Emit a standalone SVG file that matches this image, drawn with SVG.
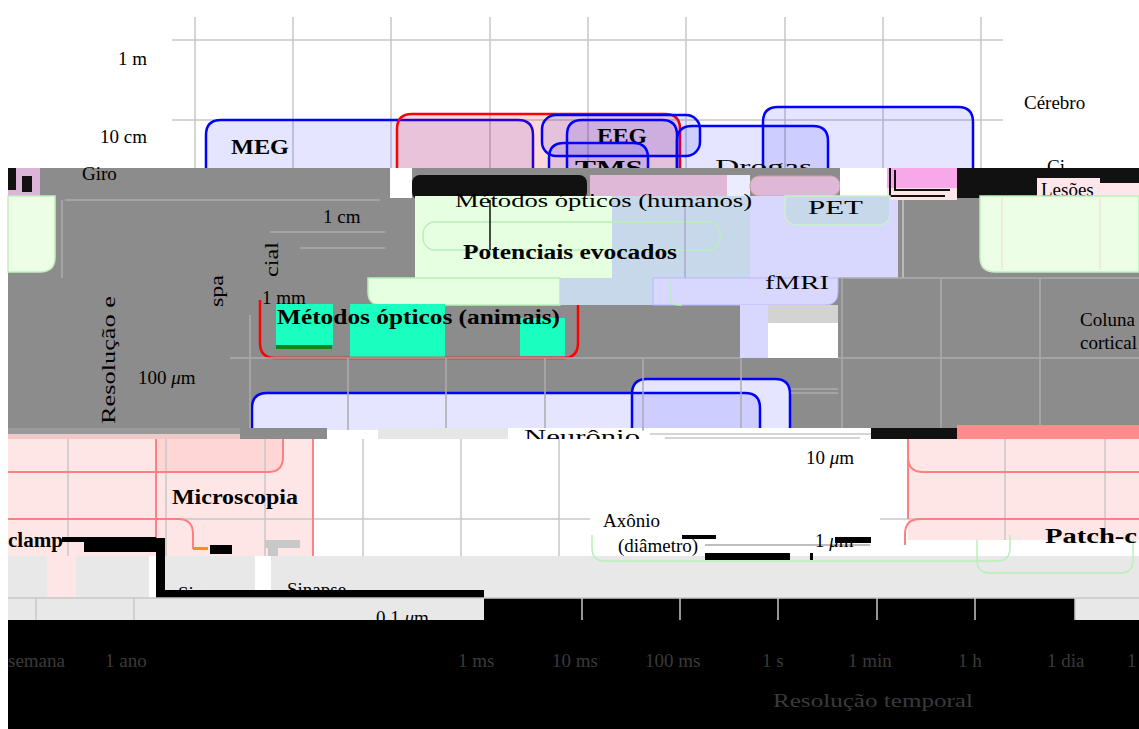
<svg xmlns="http://www.w3.org/2000/svg" width="1139" height="729" viewBox="0 0 1139 729">
<style>
.t{font-family:"Liberation Serif","Times New Roman",serif;font-size:19px;fill:#000}
.b{font-weight:bold;font-size:20px}
.ax{font-family:"Liberation Serif","Times New Roman",serif;font-size:19px;fill:#3a3a3a}
.g{stroke:#c8c8c8;stroke-width:1.5;fill:none}
.gd{stroke:#acacac;stroke-width:1.5;fill:none}
.bl{fill:#0000ff;fill-opacity:0.1;stroke:#0000ff;stroke-width:2.5}
.wh{fill:#fff;stroke:none}
.rd{fill:#ff0000;fill-opacity:0.15;stroke:#ff0000;stroke-width:2.5}
.sa{stroke:#ff8080;stroke-width:2;fill:none}
.gr{fill:#8c8c8c}
.lg{fill:#ecffe6;stroke:#bff0bf;stroke-width:1.5}
.lgo{fill:none;stroke:#b8f0b8;stroke-width:1.5}
</style>
<rect width="1139" height="729" fill="#fff"/>

<!-- top band -->
<g id="grid-top">
<path class="g" d="M172,40 H1003 M172,120 H1003 M195,17 V170 M293,17 V170 M391,17 V170 M490,17 V170 M588,17 V170 M686,17 V170 M785,17 V170 M883,17 V170 M981,17 V170"/>
<text class="t" x="147" y="65" text-anchor="end">1 m</text>
<text class="t" x="147" y="143" text-anchor="end">10 cm</text>
<text class="t" x="1024" y="109">Cérebro</text>
</g>
<g id="meg"><path class="bl" d="M206,172 V135 Q206,120 221,120 H518 Q533,120 533,135 V172"/>
<text class="t b" x="231" y="154" textLength="58" lengthAdjust="spacingAndGlyphs">MEG</text></g>
<g id="big-right"><path class="bl" d="M763,172 V122 Q763,107 778,107 H958 Q973,107 973,122 V172"/></g>
<g id="red-top"><path class="rd" d="M397,172 V129 Q397,114 412,114 H665 Q680,114 680,129 V172"/></g>
<g id="eeg">
<rect class="bl" x="542" y="115" width="158" height="41" rx="14"/>
<path class="bl" d="M567,172 V135 Q567,120 582,120 H662 Q677,120 677,135 V172"/>
<text class="t b" x="597" y="143" textLength="50" lengthAdjust="spacingAndGlyphs">EEG</text></g>
<g id="drogas"><path class="bl" d="M677,172 V141 Q677,126 692,126 H813 Q828,126 828,141 V172"/>
<text class="t" x="715" y="173" font-size="21" textLength="97" lengthAdjust="spacingAndGlyphs">Drogas</text></g>
<g id="tms"><path class="bl" d="M549,172 V158 Q549,143 564,143 H633 Q648,143 648,158 V172"/>
<text class="t b" x="575" y="175" font-size="21" textLength="68" lengthAdjust="spacingAndGlyphs">TMS</text></g>
<text class="t" x="1047" y="173">Ci</text>

<!-- glitched middle band -->
<g id="band-mid">
<rect class="gr" x="8" y="168" width="1131" height="262"/>
<rect x="0" y="168" width="8" height="561" fill="#fff"/>
<!-- row 1 -->
<rect x="8" y="168" width="32" height="28" fill="#dcb4d8"/>
<rect x="8" y="168" width="8" height="22" fill="#111"/>
<rect x="22" y="176" width="10" height="16" fill="#111"/>
<text class="t" x="82" y="180" fill="#5e5e5e">Giro</text>
<rect x="390" y="168" width="22" height="30" fill="#fff"/>
<rect x="412" y="175" width="175" height="25" rx="8" fill="#111"/>
<rect x="590" y="175" width="137" height="22" fill="#dfb8d8"/>
<rect x="727" y="175" width="23" height="22" fill="#ececff"/>
<rect x="750" y="176" width="90" height="20" rx="9" fill="#dfb8d8" stroke="#c8a0a0"/>
<rect x="840" y="168" width="47" height="30" fill="#fff"/>
<rect x="887" y="168" width="70" height="20" fill="#f8a8e8"/>
<rect x="887" y="188" width="70" height="12" fill="#ffe6e6"/>
<path d="M890,168 V196 H945 M895,170 V190 H950" stroke="#111" stroke-width="2" fill="none"/>
<rect x="957" y="168" width="182" height="10" fill="#111"/>
<rect x="957" y="178" width="80" height="20" fill="#111"/>
<rect x="1037" y="178" width="102" height="20" fill="#ffe6ea"/>
<rect x="1100" y="178" width="39" height="5" fill="#111"/>
<text class="t" x="1041" y="196">Lesões</text>
<!-- row 2 -->
<path class="lg" d="M8,196 H55 V257 Q55,272 40,272 H8 Z"/>
<path class="gd" d="M65,200 H380 M270,232 H385 M300,248 H385 M62,200 V278"/>
<text class="t" x="323" y="223">1 cm</text>
<rect x="415" y="196" width="197" height="82" fill="#e6ffe0"/>
<rect x="612" y="196" width="138" height="84" fill="#c6d8ea"/>
<rect x="750" y="196" width="140" height="82" fill="#d8d8ff"/>
<rect class="lgo" x="423" y="222" width="297" height="28" rx="12"/>
<path d="M490,200 V250" stroke="#111" stroke-width="1.5"/>
<path d="M685,198 V280" stroke="#aac" stroke-width="1.5"/>
<text class="t" x="455" y="207" font-size="21" textLength="297" lengthAdjust="spacingAndGlyphs">Métodos ópticos (humanos)</text>
<text class="t b" x="463" y="259" textLength="214" lengthAdjust="spacingAndGlyphs">Potenciais evocados</text>
<path d="M785,196 V212 Q785,225 798,225 H877 Q890,225 890,212 V196 Z" fill="#c6d8ea" stroke="#ccefcc" stroke-width="1.5"/>
<text class="t" x="808" y="214" font-size="21" textLength="55" lengthAdjust="spacingAndGlyphs">PET</text>
<rect x="890" y="200" width="8" height="78" fill="#d8d8ff"/>
<path class="g" d="M903,200 V278"/>
<path class="lg" d="M1139,196 H980 V257 Q980,272 995,272 H1139 Z"/>
<path d="M1002,198 V270 M1100,198 V270" stroke="#efe6d6" stroke-width="1.5"/>
<!-- row 3 -->
<path d="M368,278 H560 V305 H381 Q368,305 368,292 Z" fill="#e6ffe0" stroke="#b8f0b8" stroke-width="1.5"/>
<path d="M560,278 H653 V305 H560 Z" fill="#c6d8ea"/>
<path d="M653,278 H838 V292 Q838,305 825,305 H653 Z" fill="#d8d8ff" stroke="#b8b8ff" stroke-width="1"/>
<path d="M670,280 V300 Q670,305 682,305" stroke="#b8f0b8" stroke-width="1.5" fill="none"/>
<text class="t" x="765" y="289" font-size="20" fill="#a8a8f0" textLength="64" lengthAdjust="spacingAndGlyphs">fMRI</text>
<rect x="740" y="305" width="28" height="53" fill="#d8d8ff"/>
<rect x="768" y="305" width="70" height="53" fill="#fff"/>
<rect x="768" y="305" width="70" height="18" fill="#d3d3d3"/>
<rect x="276" y="304" width="57" height="41" fill="#1affbf"/>
<rect x="350" y="304" width="95" height="53" fill="#1affbf"/>
<rect x="520" y="318" width="45" height="38" fill="#1affbf"/>
<rect x="276" y="345" width="56" height="4" fill="#118811"/>
<path d="M260,300 V343 Q260,358 275,358 H563 Q578,358 578,343 V305" fill="none" stroke="#ff0000" stroke-width="2.5"/>
<text class="t b" x="277" y="324" textLength="283" lengthAdjust="spacingAndGlyphs">Métodos ópticos (animais)</text>
<text class="t" x="262" y="304">1 mm</text>
<!-- row 4 -->
<path class="wh" d="M632,430 V394 Q632,379 647,379 H775 Q790,379 790,394 V430 Z"/>
<path class="wh" d="M252,430 V408 Q252,393 267,393 H745 Q760,393 760,408 V430 Z"/>
<path class="bl" d="M632,431 V394 Q632,379 647,379 H775 Q790,379 790,394 V431"/>
<path class="bl" d="M252,431 V408 Q252,393 267,393 H745 Q760,393 760,408 V431"/>
<path class="gd" d="M230,358 H740 M838,358 H1139 M838,278 H1139 M250,315 V430 M348,358 V430 M446,358 V430 M545,358 V430 M643,358 V430 M741,358 V430 M842,278 V430 M941,278 V430 M1040,278 V430 M791,389 H838 M791,393 H838"/>
<text class="t" x="138" y="384">100 <tspan font-style="italic">μ</tspan>m</text>
<text class="t" x="1080" y="326">Coluna</text>
<text class="t" x="1080" y="349" font-size="18">cortical</text>
<text class="t" font-size="21" transform="translate(115,424) rotate(-90)" textLength="128" lengthAdjust="spacingAndGlyphs">Resolução e</text>
<text class="t" font-size="21" transform="translate(223,307) rotate(-90)" textLength="32" lengthAdjust="spacingAndGlyphs">spa</text>
<text class="t" font-size="21" transform="translate(278,277) rotate(-90)" textLength="35" lengthAdjust="spacingAndGlyphs">cial</text>
</g>

<!-- glitch strip -->
<g id="strip">
<rect x="8" y="428" width="232" height="6" fill="#9a9a9a"/>
<rect x="8" y="434" width="232" height="7" fill="#f0c8c8"/>
<rect x="240" y="428" width="87" height="12" fill="#8c8c8c"/>
<rect x="327" y="430" width="51" height="10" fill="#fff"/>
<rect x="378" y="428" width="130" height="12" fill="#e6e6e6"/>
<rect x="508" y="428" width="134" height="12" fill="#fff"/>
<text class="t" x="524" y="443" textLength="116" lengthAdjust="spacingAndGlyphs">Neurônio</text>
<rect x="644" y="428" width="227" height="12" fill="#fff"/>
<path class="g" d="M650,434 H871 M665,438 H860"/>
<rect x="871" y="428" width="86" height="12" fill="#111"/>
<rect x="957" y="425" width="182" height="15" fill="#ff8c8c"/>
</g>

<!-- lower band -->
<g id="microscopia">
<rect x="8" y="439" width="1131" height="117" fill="#fff"/>
<rect x="8" y="439" width="305" height="117" fill="#ffe6e6"/>
<rect x="908" y="439" width="231" height="101" fill="#ffe6e6"/>
<path d="M156,439 H283 V457 Q283,472 268,472 H156 Z" fill="#ffd6d6"/>
<path class="g" d="M68,439 V556 M166,439 V556 M265,439 V556 M363,439 V556 M461,439 V556 M559,439 V556 M1005,439 V540 M1105,439 V540 M8,519 H590 M880,519 H1139"/>
<path class="sa" d="M156,439 V548 M313,439 V560 M8,472 H268 Q283,472 283,457 V439 M8,519 H178 Q193,519 193,534 V549 M908,439 V519 M1139,472 H923 Q908,472 908,457 M905,545 V534 Q905,519 920,519 H1139"/>
<text class="t b" x="172" y="504" textLength="126" lengthAdjust="spacingAndGlyphs">Microscopia</text>
<text class="t" x="806" y="464">10 <tspan font-style="italic">μ</tspan>m</text>
<text class="t" x="603" y="527">Axônio</text>
<text class="t" x="618" y="552">(diâmetro)</text>
</g>
<g id="synapse-band">
<rect x="8" y="556" width="1131" height="42" fill="#e8e8e8"/>
<rect x="47" y="556" width="29" height="42" fill="#ffe6e6"/>
<rect x="149" y="556" width="7" height="42" fill="#fff"/>
<rect x="255" y="556" width="16" height="42" fill="#fff"/>
<path class="lgo" d="M592,535 V548 Q592,561 605,561 H997 Q1010,561 1010,548 V535"/>
<path class="lgo" d="M977,540 V560 Q977,573 990,573 H1120 Q1133,573 1133,560 V540"/>
<text class="t b" x="8" y="547" textLength="55" lengthAdjust="spacingAndGlyphs">clamp</text>
<text class="t b" x="1045" y="543" font-size="21" textLength="92" lengthAdjust="spacingAndGlyphs">Patch-c</text>
<text class="t" x="287" y="596">Sinapse</text>
<rect x="62" y="537" width="94" height="5" fill="#000"/>
<rect x="84" y="542" width="72" height="10" fill="#000"/>
<rect x="156" y="538" width="9" height="60" fill="#000"/>
<rect x="158" y="590" width="326" height="8" fill="#000"/>
<text class="t" x="178" y="600" fill="#d8d8d8">Sinapse</text>
<rect x="193" y="547" width="15" height="3" fill="#ff8c1a"/>
<rect x="210" y="545" width="22" height="9" fill="#000"/>
<rect x="265" y="540" width="35" height="8" fill="#c8c8c8"/>
<rect x="268" y="548" width="10" height="8" fill="#c8c8c8"/>
<path d="M705,545 H870" stroke="#aaa" stroke-width="1.5"/>
<rect x="682" y="535" width="34" height="4" fill="#000"/>
<text class="t" x="815" y="547" font-size="18">1 <tspan font-style="italic">μ</tspan>m</text>
<rect x="835" y="537" width="36" height="6" fill="#000"/>
<rect x="705" y="553" width="85" height="7" fill="#000"/>
<rect x="810" y="553" width="3" height="7" fill="#000"/>
</g>
<g id="axis-x">
<rect x="8" y="598" width="476" height="22" fill="#e8e8e8"/>
<rect x="484" y="598" width="591" height="22" fill="#000"/>
<rect x="1075" y="598" width="64" height="22" fill="#e8e8e8"/>
<path class="g" d="M8,598 H1139 M36,598 V620 M134,598 V620 M582,598 V620 M680,598 V620 M778,598 V620 M877,598 V620 M975,598 V620 M1075,598 V620"/>
<rect x="8" y="620" width="1131" height="109" fill="#000"/>
<text class="t" x="376" y="624">0,1 <tspan font-style="italic">μ</tspan>m</text>
<text class="ax" x="8" y="667">semana</text>
<text class="ax" x="105" y="667">1 ano</text>
<text class="ax" x="458" y="667">1 ms</text>
<text class="ax" x="552" y="667">10 ms</text>
<text class="ax" x="645" y="667">100 ms</text>
<text class="ax" x="762" y="667">1 s</text>
<text class="ax" x="848" y="667">1 min</text>
<text class="ax" x="958" y="667">1 h</text>
<text class="ax" x="1047" y="667">1 dia</text>
<text class="ax" x="1127" y="667">1</text>
<text class="ax" x="773" y="707" font-size="23" textLength="200" lengthAdjust="spacingAndGlyphs">Resolução temporal</text>
</g>
<g id="connectors"></g>
</svg>
